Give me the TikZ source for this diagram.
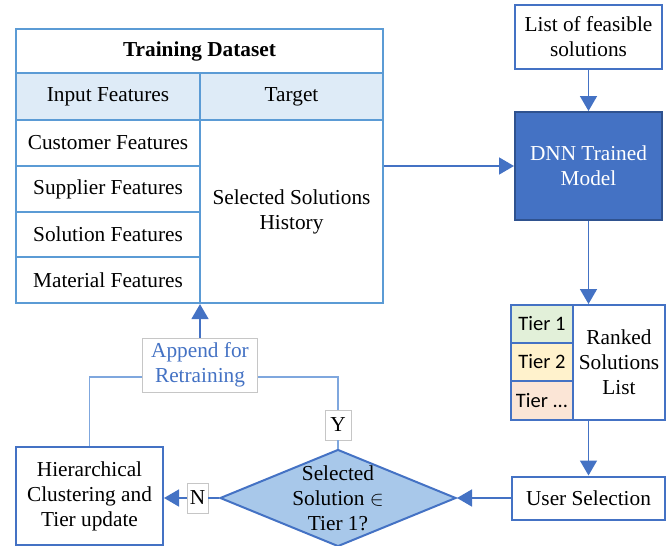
\documentclass[tikz,border=0pt]{standalone}
\usepackage{fontspec}
\setmainfont{Liberation Serif}
\newfontfamily\tierfont{Carlito}
\usepackage{xcolor}
\usetikzlibrary{shapes.geometric,arrows.meta,positioning,calc}

\definecolor{tblue}{HTML}{5B9BD5}
\definecolor{hdrfill}{HTML}{DEEBF7}
\definecolor{bblue}{HTML}{4472C4}
\definecolor{dnnedge}{HTML}{2F528F}
\definecolor{loopblue}{HTML}{7FA7DE}
\definecolor{decfill}{HTML}{A8C8EA}
\definecolor{tierone}{HTML}{E2F0D9}
\definecolor{tiertwo}{HTML}{FFF2CC}
\definecolor{tiermore}{HTML}{FBE5D6}
\newcommand{\figfont}{\fontsize{21.3}{25}\selectfont}

\begin{document}
\begin{tikzpicture}[x=1pt, y=-1pt, font=\figfont,
    cell/.style={draw=tblue, line width=2.2pt, inner sep=0pt, align=center,
      minimum width=184pt, minimum height=46pt},
    box/.style={draw=bblue, line width=2pt, inner sep=0pt, align=center, fill=white},
    tier/.style={draw=bblue, line width=2pt, inner sep=0pt, minimum width=62pt,
      minimum height=38pt, font=\tierfont\fontsize{20.5}{24}\selectfont},
    decision/.style={diamond, draw=bblue, line width=2pt, fill=decfill, inner sep=0pt,
      minimum width=236pt, minimum height=97pt},
    tag/.style={draw=gray!45, line width=0.8pt, fill=white, inner sep=0pt},
    arr/.style={draw=bblue, line width=1.6pt, -{Triangle[length=15pt,width=17pt]}},
    loopline/.style={draw=loopblue, line width=1.6pt}]

  \useasboundingbox (0,0) rectangle (672,546);

  % training table
  \node[cell, minimum width=367pt, minimum height=44pt, font=\figfont\bfseries] (title) at (199.5,51) {Training Dataset};
  \node[cell, fill=hdrfill, minimum height=47pt] (inhead) at (108,96.5) {Input Features};
  \node[cell, fill=hdrfill, minimum width=183pt, minimum height=47pt] (tghead) at (291.5,96.5) {Target};
  \node[cell] (cust) at (108,143) {Customer Features};
  \node[cell] (supp) at (108,189) {Supplier Features};
  \node[cell, minimum height=45pt] (sol) at (108,234.5) {Solution Features};
  \node[cell] (mat) at (108,280) {Material Features};
  \node[cell, minimum width=183pt, minimum height=183pt] (hist) at (291.5,211.5) {Selected Solutions\\History};

  % model side
  \node[box, minimum width=147pt, minimum height=64pt] (feas) at (588.5,37) {List of feasible\\solutions};
  \node[box, draw=dnnedge, fill=bblue, text=white, minimum width=147pt, minimum height=108pt] (dnn) at (588.5,166) {DNN Trained\\Model};

  % ranked list
  \node[tier, fill=tierone] (t1) at (542,324) {Tier 1};
  \node[tier, fill=tiertwo] (t2) at (542,362) {Tier 2};
  \node[tier, fill=tiermore, minimum height=39pt] (t3) at (542,400.5) {Tier ...};
  \node[box, minimum width=92pt, minimum height=115pt] (rank) at (619,362.5) {Ranked\\Solutions\\List};
  \node[box, minimum width=153pt, minimum height=43pt] (user) at (588.5,498) {User Selection};

  % decision loop
  \node[decision] (dec) at (338,498) {};
  \node[align=center, inner sep=0pt] (dectxt) at (dec) {Selected\\Solution $\in$\\Tier 1?};
  \node[box, minimum width=147pt, minimum height=98pt] (hier) at (89.5,496) {Hierarchical\\Clustering and\\Tier update};
  \node[tag, minimum width=21pt, minimum height=30pt] (nlab) at (197.5,498) {N};
  \node[tag, minimum width=26pt, minimum height=30pt] (ylab) at (338,425) {Y};
  \node[tag, minimum width=115pt, minimum height=54pt, align=center, text=bblue] (app) at (200,365) {Append for\\Retraining};

  % connectors
  \draw[arr] (hist.east |- dnn.west) -- (dnn.west);
  \draw[arr] (feas) -- (dnn);
  \draw[arr] (dnn.south) -- (dnn.south |- rank.north);
  \draw[arr] (dnn.south |- rank.south) -- (user);
  \draw[arr] (user) -- (dec.east);
  \draw[bblue, line width=1.6pt] (dec.west) -- (nlab.east);
  \draw[arr] (nlab.west) -- (hier.east |- nlab.west);
  \draw[loopline] (dec.north) -- (ylab.south);
  \draw[loopline] (ylab.north) |- ([yshift=-12pt]app.east);
  \draw[loopline] (hier.north) |- ([yshift=-12pt]app.west);
  \draw[arr] (app.north) -- (app.north |- mat.south);
\end{tikzpicture}
\end{document}
